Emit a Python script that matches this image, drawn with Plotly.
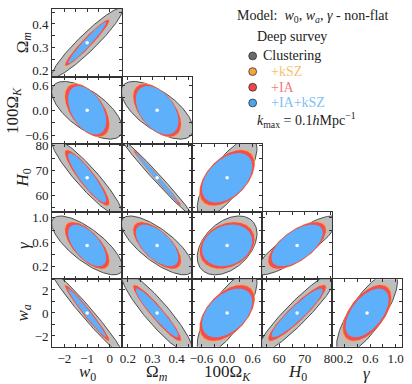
import numpy as np
import plotly.graph_objects as go

# ---------------- data ----------------
params = ["w0", "Om", "OK", "H0", "gamma", "wa"]
axis_titles = ["<i>w</i><sub>0</sub>", "Ω<sub><i>m</i></sub>", "100Ω<sub><i>K</i></sub>",
               "<i>H</i><sub>0</sub>", "<i>γ</i>", "<i>w</i><sub><i>a</i></sub>"]
fiducial = [-1.0, 0.32, 0.0, 67.0, 0.55, 0.0]
half_range = [1.54, 0.144, 0.82, 13.75, 0.55, 2.94]
tick_labels = [[-2, -1, 0], [0.2, 0.3, 0.4], [-0.6, 0.0, 0.6], [60, 70, 80], [0.2, 0.6, 1.0], [-2, 0, 2]]
tick_text = [["−2", "−1", "0"], ["0.2", "0.3", "0.4"], ["−0.6", "0.0", "0.6"],
             ["60", "70", "80"], ["0.2", "0.6", "1.0"], ["−2", "0", "2"]]
minor_step = [0.5, 0.05, 0.3, 5, 0.2, 1]

datasets = ["Clustering", "+kSZ", "+IA", "+IA+kSZ"]

# 1-sigma marginal errors (order of params)
sigma_clustering = [1.03, 0.0976, 0.462, 10.55, 0.316, 2.37]
sigma_ksz = [0.66, 0.0666, 0.432, 7.65, 0.257, 1.65]
sigma_ia = [0.64, 0.0646, 0.422, 7.45, 0.250, 1.60]
sigma_ia_ksz = [0.554, 0.058, 0.389, 6.66, 0.224, 1.40]

# panels (row param, column param)
pairs = [(1, 0), (2, 0), (2, 1), (3, 0), (3, 1), (3, 2), (4, 0), (4, 1), (4, 2), (4, 3),
         (5, 0), (5, 1), (5, 2), (5, 3), (5, 4)]
corr_clustering = [0.94, -0.65, -0.65, -0.92, -0.99, 0.75, -0.75, -0.75, 0.40, 0.85,
                   -0.978, -0.91, 0.75, 0.93, 0.77]
corr_ksz = [0.955, -0.54, -0.54, -0.90, -0.993, 0.52, -0.66, -0.66, 0.27, 0.67,
            -0.975, -0.94, 0.52, 0.92, 0.57]
corr_ia = [0.957, -0.52, -0.52, -0.90, -0.993, 0.50, -0.65, -0.65, 0.25, 0.65,
           -0.975, -0.94, 0.50, 0.92, 0.55]
corr_ia_ksz = [0.966, -0.45, -0.45, -0.90, -0.992, 0.45, -0.60, -0.60, 0.20, 0.60,
               -0.98, -0.945, 0.45, 0.92, 0.55]

fill_colors = ["#bebebe", "#f9a94b", "#f44e4e", "#5fb0fb"]
marker_colors = ["#6a6a6a", "#f6a340", "#f04848", "#4fa3f0"]
text_colors = ["#222222", "#f8bf72", "#f27c7c", "#80bff5"]

sigmas = [sigma_clustering, sigma_ksz, sigma_ia, sigma_ia_ksz]
corrs = [corr_clustering, corr_ksz, corr_ia, corr_ia_ksz]

# ---------------- layout geometry ----------------
W, H = 412, 384
col_edges = [51, 122.2, 193.4, 264.6, 335.8, 407]
row_edges = [3, 72, 141, 210, 279, 348]
FONT = "Liberation Serif"

fig = go.Figure()
k = np.sqrt(2.30)
t = np.linspace(0, 2 * np.pi, 241)


def minor_vals(p):
    lo, hi = fiducial[p] - half_range[p], fiducial[p] + half_range[p]
    step = minor_step[p]
    start = np.ceil(lo / step - 1e-9) * step
    return [float(v) for v in np.arange(start, hi + 1e-9, step)]


layout_axes = {}
for idx, (py, px) in enumerate(pairs):
    n = idx + 1
    r = py - 1
    c = px
    xs = "" if n == 1 else str(n)
    for d in range(4):
        sx, sy = sigmas[d][px], sigmas[d][py]
        rho = corrs[d][idx]
        cov = np.array([[sx * sx, rho * sx * sy], [rho * sx * sy, sy * sy]])
        L = np.linalg.cholesky(cov)
        pts = k * L @ np.vstack([np.cos(t), np.sin(t)])
        fig.add_trace(go.Scatter(
            x=fiducial[px] + pts[0], y=fiducial[py] + pts[1], mode="lines",
            fill="toself", fillcolor=fill_colors[d],
            line=dict(color="#3c3c3c" if d == 0 else fill_colors[d], width=0.9 if d == 0 else 0),
            xaxis="x" + xs, yaxis="y" + xs, showlegend=False, hoverinfo="skip"))
    fig.add_trace(go.Scatter(x=[fiducial[px]], y=[fiducial[py]], mode="markers",
                             marker=dict(color="white", size=3.5),
                             xaxis="x" + xs, yaxis="y" + xs, showlegend=False, hoverinfo="skip"))
    common = dict(showline=True, linecolor="#333", linewidth=1, mirror="allticks",
                  ticks="inside", ticklen=3, tickwidth=0.8, tickcolor="#333",
                  showgrid=False, zeroline=False, tickmode="array",
                  tickfont=dict(family=FONT, size=13, color="#222"))
    layout_axes["xaxis" + xs] = dict(
        common, domain=[col_edges[c] / W, col_edges[c + 1] / W], anchor="y" + xs,
        range=[fiducial[px] - half_range[px], fiducial[px] + half_range[px]],
        tickvals=tick_labels[px], ticktext=tick_text[px], showticklabels=(r == 4),
        minor=dict(tickmode="array", tickvals=minor_vals(px), ticks="inside",
                   ticklen=3, tickwidth=0.8, tickcolor="#333"))
    layout_axes["yaxis" + xs] = dict(
        common, domain=[1 - row_edges[r + 1] / H, 1 - row_edges[r] / H], anchor="x" + xs,
        range=[fiducial[py] - half_range[py], fiducial[py] + half_range[py]],
        tickvals=tick_labels[py], ticktext=tick_text[py], showticklabels=(c == 0),
        minor=dict(tickmode="array", tickvals=minor_vals(py), ticks="inside",
                   ticklen=3, tickwidth=0.8, tickcolor="#333"))

fig.update_layout(**layout_axes)

annotations = []
# axis titles
for c in range(5):
    annotations.append(dict(x=(col_edges[c] + col_edges[c + 1]) / 2 / W, y=1 - 375 / H,
                            xref="paper", yref="paper", text=axis_titles[c], showarrow=False,
                            font=dict(family=FONT, size=17, color="#222"),
                            xanchor="center", yanchor="middle"))
row_title_x = [22, 12, 22, 22, 22]
for r in range(5):
    annotations.append(dict(x=row_title_x[r] / W, y=1 - (row_edges[r] + row_edges[r + 1]) / 2 / H,
                            xref="paper", yref="paper", text=axis_titles[r + 1], showarrow=False,
                            textangle=-90, font=dict(family=FONT, size=17, color="#222"),
                            xanchor="center", yanchor="middle"))

# legend block
annotations.append(dict(x=237 / W, y=1 - 11 / H, xref="paper", yref="paper", showarrow=False,
                        text="Model:  <i>w</i><sub>0</sub>, <i>w</i><sub><i>a</i></sub>, <i>γ</i> - non-flat",
                        font=dict(family=FONT, size=14, color="#222"), xanchor="left", yanchor="middle"))
annotations.append(dict(x=257 / W, y=1 - 31 / H, xref="paper", yref="paper", showarrow=False,
                        text="Deep survey", font=dict(family=FONT, size=14, color="#222"),
                        xanchor="left", yanchor="middle"))
legend_y = [51, 67, 83, 99]
legend_text_x = [263, 272, 272, 272]
shapes = []
for i, name in enumerate(datasets):
    yc = legend_y[i]
    shapes.append(dict(type="circle", xref="paper", yref="paper",
                       x0=(255 - 4) / W, x1=(255 + 4) / W, y0=1 - (yc + 4) / H, y1=1 - (yc - 4) / H,
                       fillcolor=marker_colors[i], line=dict(color="#333", width=0.8)))
    annotations.append(dict(x=legend_text_x[i] / W, y=1 - yc / H, xref="paper", yref="paper",
                            showarrow=False, text=name,
                            font=dict(family=FONT, size=14, color=text_colors[i]),
                            xanchor="left", yanchor="middle"))
annotations.append(dict(x=257 / W, y=1 - 116 / H, xref="paper", yref="paper", showarrow=False,
                        text="<i>k</i><sub>max</sub> = 0.1<i>h</i>Mpc<sup>−1</sup>",
                        font=dict(family=FONT, size=14, color="#222"), xanchor="left", yanchor="middle"))

fig.update_layout(width=W, height=H, margin=dict(l=0, r=0, t=0, b=0),
                  paper_bgcolor="white", plot_bgcolor="white",
                  annotations=annotations, shapes=shapes, showlegend=False)

# remove the browser's default 8px body margin so the figure sits at the page corner
fig.write_html("out.html", config={"displayModeBar": False},
               post_script="document.body.style.margin='0px';")
